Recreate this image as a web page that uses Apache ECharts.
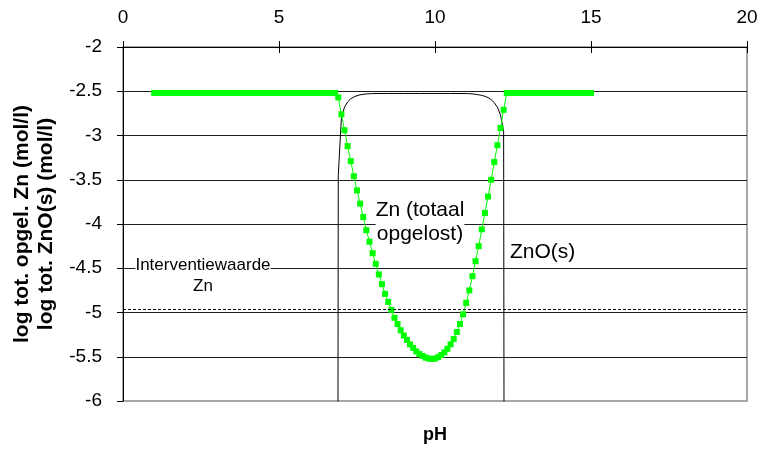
<!DOCTYPE html>
<html>
<head>
<meta charset="utf-8">
<title>Zn / ZnO(s) oplosbaarheid</title>
<script src="https://cdn.jsdelivr.net/npm/echarts@6/dist/echarts.min.js"></script>
<style>
  html, body { margin: 0; padding: 0; background: #fff; }
  #chart { width: 761px; height: 450px; }
</style>
</head>
<body>
<div id="chart"></div>
<script>
// pH grid of the dissolved-Zn series (step 0.1)
const phValues = [
  1.0, 1.1, 1.2, 1.3, 1.4, 1.5, 1.6, 1.7, 1.8, 1.9,
  2.0, 2.1, 2.2, 2.3, 2.4, 2.5, 2.6, 2.7, 2.8, 2.9,
  3.0, 3.1, 3.2, 3.3, 3.4, 3.5, 3.6, 3.7, 3.8, 3.9,
  4.0, 4.1, 4.2, 4.3, 4.4, 4.5, 4.6, 4.7, 4.8, 4.9,
  5.0, 5.1, 5.2, 5.3, 5.4, 5.5, 5.6, 5.7, 5.8, 5.9,
  6.0, 6.1, 6.2, 6.3, 6.4, 6.5, 6.6, 6.7, 6.8, 6.9,
  7.0, 7.1, 7.2, 7.3, 7.4, 7.5, 7.6, 7.7, 7.8, 7.9,
  8.0, 8.1, 8.2, 8.3, 8.4, 8.5, 8.6, 8.7, 8.8, 8.9,
  9.0, 9.1, 9.2, 9.3, 9.4, 9.5, 9.6, 9.7, 9.8, 9.9,
  10.0, 10.1, 10.2, 10.3, 10.4, 10.5, 10.6, 10.7, 10.8, 10.9,
  11.0, 11.1, 11.2, 11.3, 11.4, 11.5, 11.6, 11.7, 11.8, 11.9,
  12.0, 12.1, 12.2, 12.3, 12.4, 12.5, 12.6, 12.7, 12.8, 12.9,
  13.0, 13.1, 13.2, 13.3, 13.4, 13.5, 13.6, 13.7, 13.8, 13.9,
  14.0, 14.1, 14.2, 14.3, 14.4, 14.5, 14.6, 14.7, 14.8, 14.9,
  15.0
];

// log total dissolved Zn (mol/l), one value per pH above
const znDissolved = [
  -2.52, -2.52, -2.52, -2.52, -2.52, -2.52, -2.52, -2.52, -2.52, -2.52,
  -2.52, -2.52, -2.52, -2.52, -2.52, -2.52, -2.52, -2.52, -2.52, -2.52,
  -2.52, -2.52, -2.52, -2.52, -2.52, -2.52, -2.52, -2.52, -2.52, -2.52,
  -2.52, -2.52, -2.52, -2.52, -2.52, -2.52, -2.52, -2.52, -2.52, -2.52,
  -2.52, -2.52, -2.52, -2.52, -2.52, -2.52, -2.52, -2.52, -2.52, -2.52,
  -2.52, -2.52, -2.52, -2.52, -2.52, -2.52, -2.52, -2.52, -2.52, -2.57,
  -2.76, -2.94, -3.12, -3.29, -3.46, -3.62, -3.77, -3.92, -4.07, -4.20,
  -4.33, -4.45, -4.57, -4.68, -4.79, -4.88, -4.97, -5.06, -5.13, -5.20,
  -5.26, -5.31, -5.36, -5.40, -5.44, -5.47, -5.49, -5.51, -5.52, -5.525,
  -5.52, -5.505, -5.48, -5.45, -5.41, -5.36, -5.30, -5.22, -5.13, -5.02,
  -4.89, -4.75, -4.59, -4.42, -4.25, -4.06, -3.875, -3.69, -3.50, -3.30,
  -3.11, -2.915, -2.71, -2.52, -2.52, -2.52, -2.52, -2.52, -2.52, -2.52,
  -2.52, -2.52, -2.52, -2.52, -2.52, -2.52, -2.52, -2.52, -2.52, -2.52,
  -2.52, -2.52, -2.52, -2.52, -2.52, -2.52, -2.52, -2.52, -2.52, -2.52,
  -2.52
];

// log total ZnO(s) (mol/l); outside the precipitation window it drops far below the axis
const znoPH = [
  6.8, 6.9, 7.0, 7.1, 7.2, 7.3, 7.4, 7.5, 7.6, 7.7, 7.8, 7.9, 8.0,
  8.5, 9.0, 9.5, 10.0, 10.5, 11.0, 11.1, 11.2, 11.3, 11.4, 11.5,
  11.6, 11.7, 11.8, 11.9, 12.0, 12.1, 12.2, 12.3
];
const znoSolid = [
  -30, -3.45, -2.80, -2.68, -2.62, -2.585, -2.565, -2.55, -2.54, -2.535, -2.53, -2.528, -2.526,
  -2.525, -2.525, -2.525, -2.525, -2.525, -2.526, -2.527, -2.53, -2.535, -2.54, -2.547,
  -2.557, -2.572, -2.595, -2.63, -2.68, -2.77, -2.95, -30
];

// intervention value for Zn, log mol/l
const interventionLevel = -4.96;

// axis ranges
const xRange = { min: 0, max: 20, interval: 5 };
const yRange = { min: -6, max: -2, interval: 0.5 };

const FONT = "'Liberation Sans', Arial, Helvetica, sans-serif";

const chart = echarts.init(document.getElementById('chart'), null, { renderer: 'canvas' });

const option = {
  animation: false,
  backgroundColor: '#ffffff',
  textStyle: { fontFamily: FONT },
  grid: {
    left: 123, right: 14, top: 47, bottom: 49,
    show: true, borderColor: '#8a8a8a', borderWidth: 1.5,
    backgroundColor: 'transparent'
  },
  xAxis: [
    {
      type: 'value', position: 'top',
      min: xRange.min, max: xRange.max, interval: xRange.interval,
      axisLine: { show: true, lineStyle: { color: '#000', width: 1 } },
      axisTick: { show: true, inside: false, length: 6, lineStyle: { color: '#000' } },
      axisLabel: { color: '#000', fontSize: 19, fontFamily: FONT, margin: 20 },
      splitLine: { show: false }
    },
    {
      // inner half of the crossing tick marks
      type: 'value', position: 'top', offset: 0,
      min: xRange.min, max: xRange.max, interval: xRange.interval,
      axisLine: { show: false },
      axisTick: { show: true, inside: true, length: 6, lineStyle: { color: '#000' } },
      axisLabel: { show: false },
      splitLine: { show: false }
    }
  ],
  yAxis: {
    type: 'value',
    min: yRange.min, max: yRange.max, interval: yRange.interval,
    axisLine: { show: true, lineStyle: { color: '#000', width: 1 } },
    axisTick: { show: true, length: 6, lineStyle: { color: '#000' } },
    axisLabel: { color: '#000', fontSize: 19, fontFamily: FONT, margin: 21 },
    splitLine: {
      show: true, showMinLine: false, showMaxLine: false,
      lineStyle: { color: '#1e1e1e', width: 1 }
    },
    name: 'log tot. opgel. Zn (mol/l)\nlog tot. ZnO(s) (mol/l)',
    nameLocation: 'middle',
    nameRotate: 90,
    nameGap: 62,
    nameTextStyle: { color: '#000', fontSize: 21, fontWeight: 'bold', lineHeight: 24, fontFamily: FONT }
  },
  series: [
    {
      name: 'ZnO(s)',
      type: 'line',
      data: znoPH.map((p, i) => [p, znoSolid[i]]),
      symbol: 'none',
      clip: true,
      lineStyle: { color: '#000', width: 1 },
      z: 2,
      markLine: {
        silent: true,
        symbol: ['none', 'none'],
        label: { show: false },
        lineStyle: { color: '#000', width: 1, type: [3, 2] },
        data: [{ yAxis: interventionLevel }]
      }
    },
    {
      name: 'Zn (totaal opgelost)',
      type: 'line',
      data: phValues.map((p, i) => [p, znDissolved[i]]),
      symbol: 'rect',
      symbolSize: 6,
      showAllSymbol: true,
      clip: true,
      itemStyle: { color: '#00ff00' },
      lineStyle: { color: '#00ff00', width: 1 },
      z: 3
    }
  ],
  graphic: [
    {
      type: 'text', x: 420, y: 222, z: 1,
      style: {
        text: 'Zn (totaal\nopgelost)', fill: '#000',
        font: "21px " + FONT, lineHeight: 24,
        align: 'center', verticalAlign: 'middle',
        backgroundColor: '#ffffff'
      }
    },
    {
      type: 'text', x: 203, y: 276, z: 1,
      style: {
        text: 'Interventiewaarde\nZn', fill: '#000',
        font: "17px " + FONT, lineHeight: 21,
        align: 'center', verticalAlign: 'middle',
        backgroundColor: '#ffffff'
      }
    },
    {
      type: 'text', x: 510, y: 252, z: 1,
      style: {
        text: 'ZnO(s)', fill: '#000',
        font: "21px " + FONT,
        align: 'left', verticalAlign: 'middle'
      }
    },
    {
      type: 'text', x: 435, y: 435, z: 1,
      style: {
        text: 'pH', fill: '#000',
        font: "bold 18px " + FONT,
        align: 'center', verticalAlign: 'middle'
      }
    }
  ]
};

chart.setOption(option);
</script>
</body>
</html>
